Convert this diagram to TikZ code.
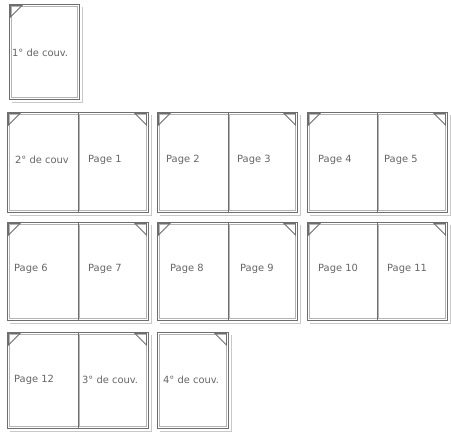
\documentclass[tikz,border=0pt]{standalone}
\usepackage{fontspec}
\setmainfont{DejaVu Sans}
\definecolor{bordc}{HTML}{6E6E6E}
\definecolor{innc}{HTML}{B4B4B4}
\definecolor{shadc}{HTML}{C8C8C8}
\definecolor{txtc}{HTML}{666666}
\tikzset{
  outerline/.style={draw=bordc, line width=1pt},
  innerline/.style={draw=innc, line width=0.6pt},
  shadowline/.style={draw=shadc, line width=1.6pt},
  cornertri/.style={draw=bordc, line width=0.8pt, line join=miter},
  lbl/.style={anchor=west, inner sep=0pt, text=txtc, font=\fontsize{9.9}{12}\selectfont}
}
% #1 x1, #2 y1, #3 x2, #4 y2
\newcommand\pgframe[4]{%
  \draw[shadowline] (#1+3,#4+3.5) -- (#3+3.5,#4+3.5) -- (#3+3.5,#2+3);
  \draw[outerline] (#1,#2) rectangle (#3,#4);
  \draw[innerline] (#1+1.8,#2+1.8) rectangle (#3-1.8,#4-1.8);
}
\newcommand\lefttri[2]{%
  \draw[cornertri] (#1+1.5,#2+1.5) -- (#1+13,#2+1.5) -- (#1+1.5,#2+13) -- cycle;
}
\newcommand\righttri[2]{%
  \draw[cornertri] (#1-1.5,#2+1.5) -- (#1-13,#2+1.5) -- (#1-1.5,#2+13) -- cycle;
}
\newcommand\midfold[3]{%
  \draw[outerline] (#1,#2) -- (#1,#3);
  \draw[innerline] (#1+1.5,#2+1.8) -- (#1+1.5,#3-1.8);
}
\begin{document}
\begin{tikzpicture}[x=1pt,y=-1pt]
\useasboundingbox[fill=white] (0,0) rectangle (451,434);
% single top page
\pgframe{9}{4}{79}{99}
\lefttri{9}{4}
\node[lbl] (c1) at (12,53) {1° de couv.};
% row 1
\pgframe{7}{112}{148}{212}\midfold{78}{112}{212}\lefttri{7}{112}\righttri{148}{112}
\pgframe{157}{112}{297}{212}\midfold{228}{112}{212}\lefttri{157}{112}\righttri{297}{112}
\pgframe{307}{112}{447}{212}\midfold{377}{112}{212}\lefttri{307}{112}\righttri{447}{112}
\node[lbl] (c2) at (15,160) {2° de couv};
\node[lbl] (p1) at (88,160) {Page 1};
\node[lbl] (p2) at (166,160) {Page 2};
\node[lbl] (p3) at (237,160) {Page 3};
\node[lbl] (p4) at (318,160) {Page 4};
\node[lbl] (p5) at (384,160) {Page 5};
% row 2
\pgframe{7}{222}{148}{320}\midfold{78}{222}{320}\lefttri{7}{222}\righttri{148}{222}
\pgframe{157}{222}{297}{320}\midfold{228}{222}{320}\lefttri{157}{222}\righttri{297}{222}
\pgframe{307}{222}{447}{320}\midfold{377}{222}{320}\lefttri{307}{222}\righttri{447}{222}
\node[lbl] (p6) at (14,269) {Page 6};
\node[lbl] (p7) at (88,269) {Page 7};
\node[lbl] (p8) at (170,269) {Page 8};
\node[lbl] (p9) at (240,269) {Page 9};
\node[lbl] (p10) at (318,269) {Page 10};
\node[lbl] (p11) at (387,269) {Page 11};
% row 3
\pgframe{7}{332}{148}{428}\midfold{78}{332}{428}\lefttri{7}{332}\righttri{148}{332}
\pgframe{157}{332}{228}{428}\righttri{228}{332}
\node[lbl] (p12) at (14,380) {Page 12};
\node[lbl] (c3) at (82,380) {3° de couv.};
\node[lbl] (c4) at (163,380) {4° de couv.};
\end{tikzpicture}
\end{document}
